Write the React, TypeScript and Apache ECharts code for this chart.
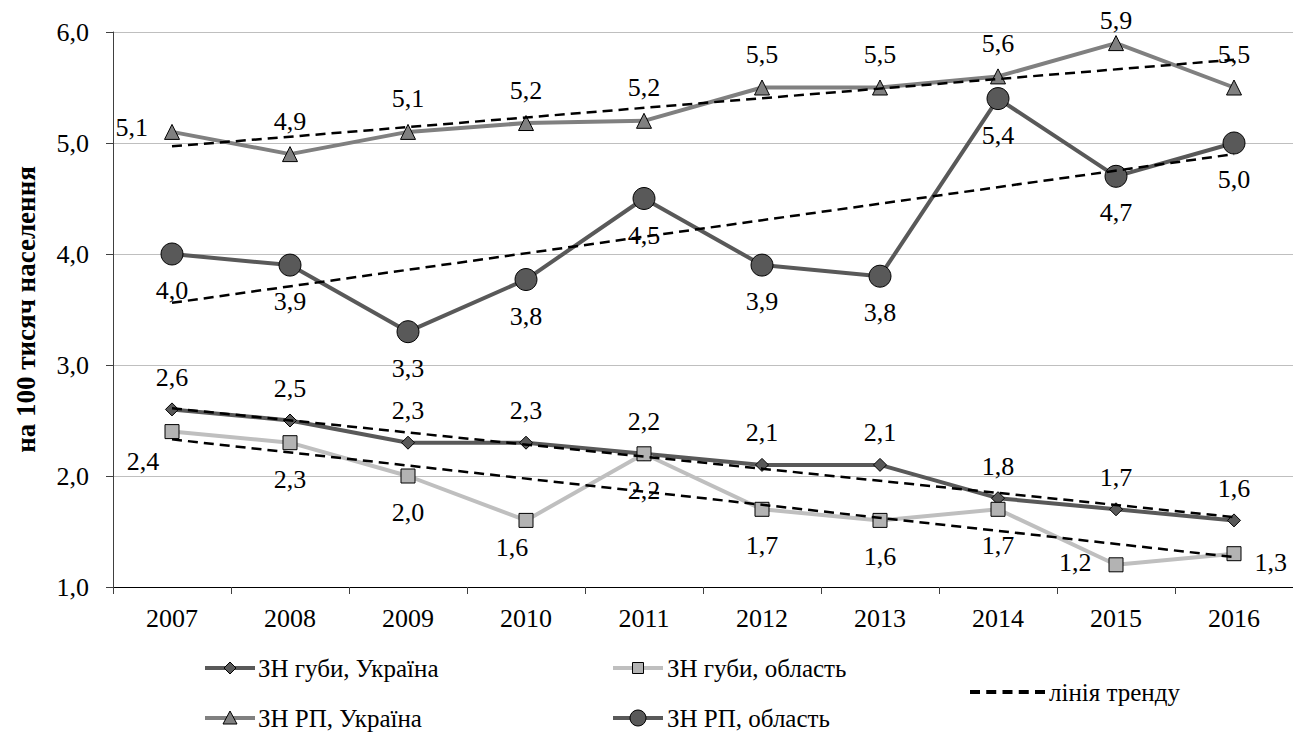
import React, { useEffect, useRef } from "react";
import * as echarts from "echarts";

const years = ["2007", "2008", "2009", "2010", "2011", "2012", "2013", "2014", "2015", "2016"];
const lipUkr = [2.6, 2.5, 2.3, 2.3, 2.2, 2.1, 2.1, 1.8, 1.7, 1.6];
const lipObl = [2.4, 2.3, 2.0, 1.6, 2.2, 1.7, 1.6, 1.7, 1.2, 1.3];
const rpUkr = [5.1, 4.9, 5.1, 5.18, 5.2, 5.5, 5.5, 5.6, 5.9, 5.5];
const rpObl = [4.0, 3.9, 3.3, 3.77, 4.5, 3.9, 3.8, 5.4, 4.7, 5.0];
// trend line end points (2007, 2016)
const trendLipUkr = [2.61, 1.63];
const trendLipObl = [2.33, 1.27];
const trendRpUkr = [4.97, 5.75];
const trendRpObl = [3.56, 4.9];
const yTicks = { min: 1, max: 6, step: 1 };
const legendNames = ["ЗН губи, Україна", "ЗН губи, область", "ЗН РП, Україна", "ЗН РП, область", "лінія тренду"];

const FONT = "Liberation Serif";
const FS = 26;
const fmt = (v: number) => v.toFixed(1).replace(".", ",");

// per-point label placement overrides
const labelOverrides: Record<string, Record<number, any>> = {
  rpUkr: {
    0: { position: "left", distance: 16, offset: [0, -4] },
    8: { position: "top", distance: 12, offset: [0, 10] },
  },
  lipObl: {
    0: { position: "bottom", distance: 16, offset: [-29, -7] },
    3: { position: "bottom", distance: 16, offset: [-14, -9] },
    8: { position: "left", distance: 17, offset: [0, -2] },
    9: { position: "right", distance: 13, offset: [0, 9] },
  },
};

const mkData = (key: string, vals: number[]) =>
  vals.map((v, i) => {
    const o = labelOverrides[key] && labelOverrides[key][i];
    return o ? { value: v, label: o } : { value: v };
  });

const trendData = (t: number[]) => [
  [years[0], t[0]],
  [years[years.length - 1], t[1]],
];

export default function App() {
  const ref = useRef<HTMLDivElement>(null);
  useEffect(() => {
    if (!ref.current) return;
    const chart = echarts.init(ref.current, undefined, { renderer: "svg" });
    const baseLabel = {
      show: true,
      fontFamily: FONT,
      fontSize: FS,
      color: "#000",
      formatter: (p: any) => fmt(Array.isArray(p.value) ? p.value[1] : p.value),
    };
    const trendSeries = (t: number[]) => ({
      name: legendNames[4],
      type: "line",
      data: trendData(t),
      symbol: "none",
      lineStyle: { color: "#000", width: 2.5, type: [10, 6] },
      itemStyle: { color: "#000" },
      z: 5,
      silent: true,
    });
    const txt = (x: number, y: number, s: string) => ({
      type: "text",
      x,
      y,
      style: { text: s, fontFamily: FONT, fontSize: 25, fill: "#000", textVerticalAlign: "middle", textAlign: "left" },
    });
    const seg = (x: number, y: number, color: string, w: number, dash?: number[]) => ({
      type: "line",
      shape: { x1: x, y1: y, x2: x + (dash ? 75 : 50), y2: y },
      style: { stroke: color, lineWidth: w, lineDash: dash },
    });
    const border = { stroke: "#000", lineWidth: 1 };
    const legendGraphics = [
      // row 1
      seg(205, 668, "#595959", 4),
      { type: "polygon", shape: { points: [[230, 662], [236, 668], [230, 674], [224, 668]] }, style: { fill: "#595959", ...border } },
      txt(258, 668, legendNames[0]),
      seg(613, 668, "#bfbfbf", 4),
      { type: "rect", shape: { x: 632.5, y: 662.5, width: 11, height: 11 }, style: { fill: "#b3b3b3", ...border } },
      txt(667, 668, legendNames[1]),
      // row 2
      seg(205, 718, "#808080", 4),
      { type: "polygon", shape: { points: [[230, 711], [237, 724], [223, 724]] }, style: { fill: "#808080", ...border } },
      txt(258, 718, legendNames[2]),
      seg(613, 718, "#595959", 4),
      { type: "circle", shape: { cx: 638, cy: 718, r: 8 }, style: { fill: "#595959", ...border } },
      txt(667, 718, legendNames[3]),
      // trend
      seg(970, 692, "#000", 4, [10, 6.25]),
      txt(1049, 692, legendNames[4]),
    ];
    chart.setOption({
      animation: false,
      textStyle: { fontFamily: FONT },
      grid: { left: 113, right: 0, top: 32, bottom: 146, containLabel: false },
      xAxis: {
        type: "category",
        data: years,
        boundaryGap: true,
        axisLine: { lineStyle: { color: "#000", width: 1 } },
        axisTick: { show: true, length: 7, lineStyle: { color: "#404040" } },
        axisLabel: { fontFamily: FONT, fontSize: FS, color: "#000", margin: 18 },
      },
      yAxis: {
        type: "value",
        min: yTicks.min,
        max: yTicks.max,
        interval: yTicks.step,
        name: "на 100 тисяч населення",
        nameLocation: "middle",
        nameGap: 74,
        nameTextStyle: { fontFamily: FONT, fontSize: 27, fontWeight: "bold", color: "#000" },
        axisLine: { show: true, lineStyle: { color: "#404040" } },
        axisTick: { show: true, length: 7, lineStyle: { color: "#404040" } },
        splitLine: { lineStyle: { color: "#bfbfbf", width: 1 } },
        axisLabel: { fontFamily: FONT, fontSize: FS, color: "#000", margin: 24, formatter: (v: number) => fmt(v) },
      },
      graphic: legendGraphics,
      series: [
        {
          name: legendNames[0],
          type: "line",
          data: mkData("lipUkr", lipUkr),
          symbol: "diamond",
          symbolSize: 13,
          lineStyle: { color: "#595959", width: 4 },
          itemStyle: { color: "#595959", borderColor: "#000", borderWidth: 1 },
          label: { ...baseLabel, position: "top", distance: 12 },
        },
        {
          name: legendNames[1],
          type: "line",
          data: mkData("lipObl", lipObl),
          symbol: "rect",
          symbolSize: 14,
          lineStyle: { color: "#bfbfbf", width: 4 },
          itemStyle: { color: "#b3b3b3", borderColor: "#000", borderWidth: 1 },
          label: { ...baseLabel, position: "bottom", distance: 16 },
        },
        {
          name: legendNames[2],
          type: "line",
          data: mkData("rpUkr", rpUkr),
          symbol: "triangle",
          symbolSize: 15,
          lineStyle: { color: "#808080", width: 4 },
          itemStyle: { color: "#808080", borderColor: "#000", borderWidth: 1 },
          label: { ...baseLabel, position: "top", distance: 12 },
        },
        {
          name: legendNames[3],
          type: "line",
          data: mkData("rpObl", rpObl),
          symbol: "circle",
          symbolSize: 22,
          lineStyle: { color: "#595959", width: 4 },
          itemStyle: { color: "#595959", borderColor: "#000", borderWidth: 1 },
          label: { ...baseLabel, position: "bottom", distance: 12 },
        },
        trendSeries(trendLipUkr),
        trendSeries(trendLipObl),
        trendSeries(trendRpUkr),
        trendSeries(trendRpObl),
      ],
    });
    return () => chart.dispose();
  }, []);
  return (
    <div
      ref={ref}
      style={{ position: "absolute", left: 0, top: 0, width: 1293, height: 733, background: "#fff" }}
    />
  );
}
